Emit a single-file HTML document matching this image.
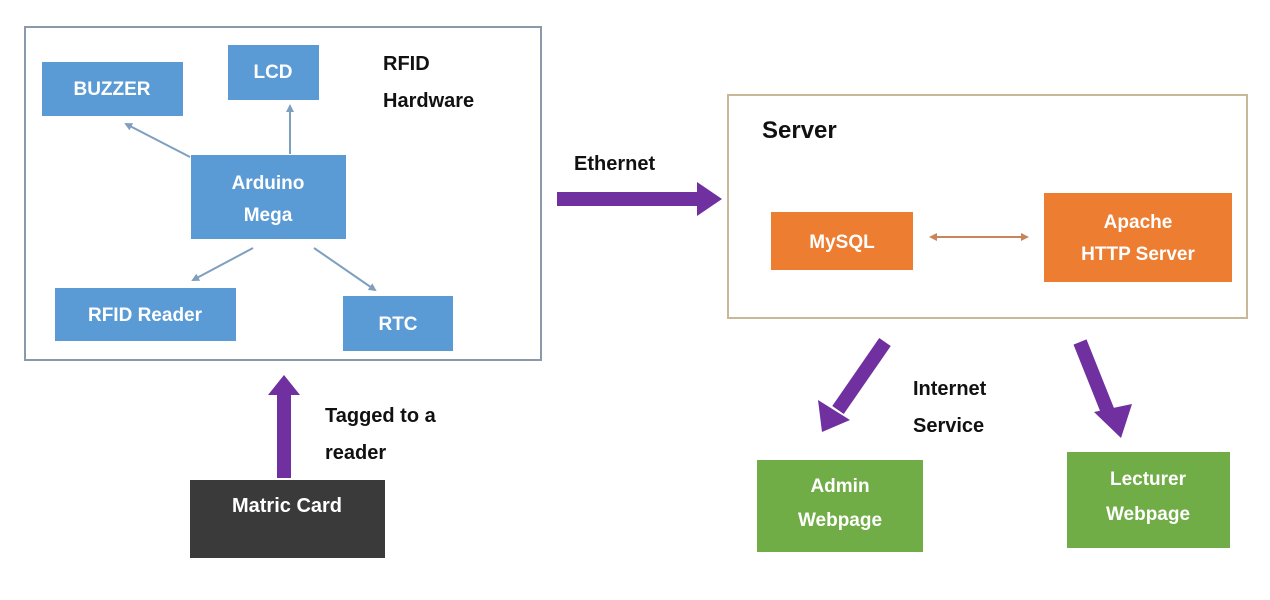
<!DOCTYPE html>
<html><head><style>
html,body{margin:0;padding:0;background:#fff;}
svg{display:block;}
text{font-family:"Liberation Sans",sans-serif;font-weight:bold;}
</style></head><body>
<svg width="1270" height="600" viewBox="0 0 1270 600" xmlns="http://www.w3.org/2000/svg">
<defs>
<marker id="ba" markerWidth="8" markerHeight="8" refX="6" refY="4" orient="auto" markerUnits="userSpaceOnUse"><path d="M0,0 L8,4 L0,8 z" fill="#7f9fbf"/></marker>
<marker id="oa" markerWidth="8" markerHeight="8" refX="6" refY="4" orient="auto-start-reverse" markerUnits="userSpaceOnUse"><path d="M0,0 L8,4 L0,8 z" fill="#c8845a"/></marker>
</defs>
<rect width="1270" height="600" fill="#fff"/>
<!-- left box -->
<rect x="25" y="27" width="516" height="333" fill="#fff" stroke="#8a9aaa" stroke-width="2"/>
<g fill="#5b9bd5">
<rect x="42" y="62" width="141" height="54"/>
<rect x="228" y="45" width="91" height="55"/>
<rect x="191" y="155" width="155" height="84"/>
<rect x="55" y="288" width="181" height="53"/>
<rect x="343" y="296" width="110" height="55"/>
</g>
<g fill="#fff" font-size="19" text-anchor="middle">
<text x="112" y="95">BUZZER</text>
<text x="273" y="78">LCD</text>
<text x="268" y="189">Arduino</text>
<text x="268" y="221">Mega</text>
<text x="145" y="321">RFID Reader</text>
<text x="398" y="330">RTC</text>
</g>
<g stroke="#7f9fbf" stroke-width="2" fill="none">
<line x1="190" y1="157" x2="126" y2="124" marker-end="url(#ba)"/>
<line x1="290" y1="154" x2="290" y2="106" marker-end="url(#ba)"/>
<line x1="253" y1="248" x2="193" y2="280" marker-end="url(#ba)"/>
<line x1="314" y1="248" x2="375" y2="290" marker-end="url(#ba)"/>
</g>
<text x="383" y="70" font-size="20" fill="#111">RFID</text>
<text x="383" y="107" font-size="20" fill="#111">Hardware</text>
<!-- ethernet -->
<text x="574" y="170" font-size="20" fill="#111">Ethernet</text>
<path d="M557,192 L697,192 L697,182 L722,199 L697,216 L697,206 L557,206 z" fill="#7030a0"/>
<!-- server -->
<rect x="728" y="95" width="519" height="223" fill="#fff" stroke="#c9b79a" stroke-width="2"/>
<text x="762" y="138" font-size="24" fill="#111">Server</text>
<rect x="771" y="212" width="142" height="58" fill="#ed7d31"/>
<rect x="1044" y="193" width="188" height="89" fill="#ed7d31"/>
<g fill="#fff" font-size="19" text-anchor="middle">
<text x="842" y="248">MySQL</text>
<text x="1138" y="228">Apache</text>
<text x="1138" y="260">HTTP Server</text>
</g>
<line x1="931" y1="237" x2="1027" y2="237" stroke="#c8845a" stroke-width="2" marker-start="url(#oa)" marker-end="url(#oa)"/>
<!-- down arrows -->
<g stroke="#7030a0" stroke-width="14" fill="none">
<line x1="885" y1="342" x2="838" y2="410"/>
<line x1="1080" y1="342" x2="1108" y2="412"/>
</g>
<path d="M818,400 L850,420 L822,432 z" fill="#7030a0"/>
<path d="M1094,412 L1132,404 L1121,438 z" fill="#7030a0"/>
<text x="913" y="395" font-size="20" fill="#111">Internet</text>
<text x="913" y="432" font-size="20" fill="#111">Service</text>
<rect x="757" y="460" width="166" height="92" fill="#70ad47"/>
<rect x="1067" y="452" width="163" height="96" fill="#70ad47"/>
<g fill="#fff" font-size="19" text-anchor="middle">
<text x="840" y="492">Admin</text>
<text x="840" y="526">Webpage</text>
<text x="1148" y="485">Lecturer</text>
<text x="1148" y="520">Webpage</text>
</g>
<!-- matric -->
<path d="M277,478 L277,395 L268,395 L284,375 L300,395 L291,395 L291,478 z" fill="#7030a0"/>
<text x="325" y="422" font-size="20" fill="#111">Tagged to a</text>
<text x="325" y="459" font-size="20" fill="#111">reader</text>
<rect x="190" y="480" width="195" height="78" fill="#3a3a3a"/>
<text x="287" y="512" font-size="20" fill="#fff" text-anchor="middle">Matric Card</text>
</svg>
</body></html>
